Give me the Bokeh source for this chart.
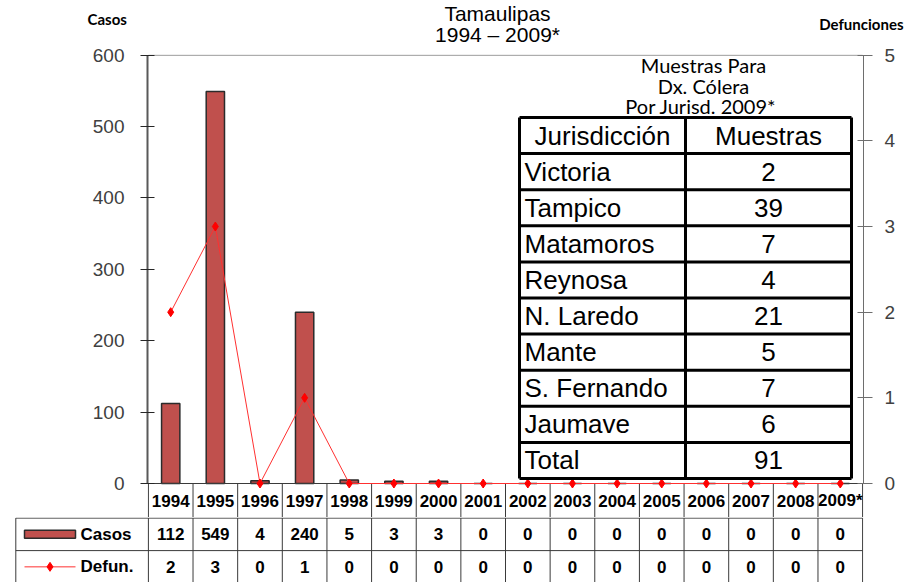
from bokeh.plotting import figure
from bokeh.models import Range1d, LinearAxis, FixedTicker
from bokeh.layouts import column
from bokeh.embed import file_html
from bokeh.resources import INLINE
from bokeh.core.properties import value

# ---------------- data ----------------
years = ["1994", "1995", "1996", "1997", "1998", "1999", "2000", "2001",
         "2002", "2003", "2004", "2005", "2006", "2007", "2008", "2009*"]
casos = [112, 549, 4, 240, 5, 3, 3, 0, 0, 0, 0, 0, 0, 0, 0, 0]
defun = [2, 3, 0, 1, 0, 0, 0, 0, 0, 0, 0, 0, 0, 0, 0, 0]
casos_ticks = [0, 100, 200, 300, 400, 500, 600]
defun_ticks = [0, 1, 2, 3, 4, 5]
jurisdicciones = ["Victoria", "Tampico", "Matamoros", "Reynosa", "N. Laredo",
                  "Mante", "S. Fernando", "Jaumave"]
muestras = [2, 39, 7, 4, 21, 5, 7, 6]
total_label = "Total"
total_muestras = 91
inset_title = ["Muestras Para", "Dx. Cólera", "Por Jurisd.  2009*"]
title_lines = ["Tamaulipas", "1994 – 2009*"]

# ---------------- geometry ----------------
W = 904
HEAD_H = 46
CHART_H = 471
BOT_H = 65
BL, BR, BT = 147, 41, 8
frame_w = W - BL - BR
frame_h = CHART_H - BT
n = len(years)
x0, x1 = -0.02, n + 0.02
scale = frame_w / (x1 - x0)          # px per column
y_end = 601.0
k = 429.0 / y_end                     # px per case
y_start = y_end - frame_h / k
RATIO = 120.0                         # 600 casos <-> 5 defunciones

ARIAL = value("Liberation Sans")
CAL = value("Lato")
AX = "#595959"
GRID = "#3a3a3a"


def px_x(page_x):
    return x0 + (page_x - BL) / scale


def px_y(page_y):
    return (483 - page_y) / k


# ---------------- header figure (titles) ----------------
h = figure(width=W, height=HEAD_H, x_range=Range1d(0, W), y_range=Range1d(HEAD_H, 0),
           x_axis_type=None, y_axis_type=None, output_backend="svg",
           toolbar_location=None, min_border=0, frame_align=False)
h.outline_line_color = None
h.grid.visible = False
h.text(x=[497, 497], y=[13, 34], text=title_lines, text_align="center",
       text_baseline="middle", text_font=ARIAL, text_font_size="21px",
       text_color="black")
h.text(x=[87], y=[18], text=["Casos"], text_align="left", text_baseline="middle",
       text_font=CAL, text_font_style="bold", text_font_size="15px", text_color="black")
h.text(x=[903], y=[23], text=["Defunciones"], text_align="right",
       text_baseline="middle", text_font=CAL, text_font_style="bold",
       text_font_size="15px", text_color="black")

# ---------------- chart figure ----------------
p = figure(width=W, height=CHART_H, x_range=Range1d(x0, x1),
           y_range=Range1d(y_start, y_end), x_axis_type=None,
           output_backend="svg", toolbar_location=None,
           min_border_left=BL, min_border_right=BR, min_border_top=BT,
           min_border_bottom=0, frame_align=False)
p.outline_line_color = None
p.ygrid.visible = False
p.extra_y_ranges = {"defun": Range1d(y_start / RATIO, y_end / RATIO)}

ya = p.yaxis[0]
ya.ticker = FixedTicker(ticks=casos_ticks)
ya.bounds = (0, 600)
ya.axis_line_color = AX
ya.axis_line_width = 2
ya.major_tick_line_color = "#262626"
ya.major_tick_in = 7
ya.major_tick_out = 7
ya.minor_tick_line_color = None
ya.major_label_text_font = "Liberation Sans"
ya.major_label_text_font_size = "19px"
ya.major_label_text_color = "#404040"
ya.major_label_standoff = 16

ra = LinearAxis(y_range_name="defun", ticker=FixedTicker(ticks=defun_ticks),
                bounds=(0, 5))
ra.axis_line_color = "#6e6e6e"
ra.major_tick_line_color = "#6e6e6e"
ra.major_tick_in = 6
ra.major_tick_out = 9
ra.minor_tick_line_color = None
ra.major_label_text_font = "Liberation Sans"
ra.major_label_text_font_size = "19px"
ra.major_label_text_color = "#404040"
ra.major_label_standoff = 12
p.add_layout(ra, "right")

centers = [i + 0.5 for i in range(n)]

# top border line
p.segment(x0=[0], x1=[n], y0=[600], y1=[600], line_color="#8c8c8c", line_width=1)

# bars
p.vbar(x=centers, top=casos, bottom=0, width=0.41, fill_color="#C0504D",
       line_color="#2b2b2b", line_width=1.5)

# header row (years) with cell borders
p.segment(x0=[0], x1=[n], y0=[0], y1=[0], line_color=GRID, line_width=1)
p.segment(x0=list(range(n + 1)), x1=list(range(n + 1)),
          y0=[0] * (n + 1), y1=[y_start] * (n + 1), line_color=GRID, line_width=1)
p.text(x=centers, y=[y_start / 2] * n, text=years, text_align="center",
       text_baseline="middle", text_font=ARIAL, text_font_size="17px",
       text_font_style="bold", text_color="black")

# defunciones line
p.line(x=centers, y=defun, y_range_name="defun", line_color="#FF3030", line_width=1)
p.scatter(x=centers, y=defun, y_range_name="defun", marker="diamond", size=9,
          fill_color="#FF0000", line_color="#FF0000")

# ---------------- inset table ----------------
tx0, tx1, tx2 = px_x(519), px_x(685), px_x(851)
ty_top, ty_bot = px_y(117), px_y(478)
rows = ["Jurisdicción"] + jurisdicciones + [total_label]
vals = ["Muestras"] + [str(v) for v in muestras] + [str(total_muestras)]
nr = len(rows)
rh = (ty_top - ty_bot) / nr
p.quad(left=[tx0], right=[tx2], bottom=[ty_bot], top=[ty_top],
       fill_color="white", line_color=None)
hy = [ty_top - i * rh for i in range(nr + 1)]
p.segment(x0=[tx0] * len(hy), x1=[tx2] * len(hy), y0=hy, y1=hy,
          line_color="black", line_width=3)
p.segment(x0=[tx0, tx1, tx2], x1=[tx0, tx1, tx2], y0=[ty_bot] * 3,
          y1=[ty_top] * 3, line_color="black", line_width=3)
rc = [ty_top - (i + 0.5) * rh for i in range(nr)]
p.text(x=[(tx0 + tx1) / 2], y=[rc[0]], text=[rows[0]], text_align="center",
       text_baseline="middle", text_font=ARIAL, text_font_size="26px",
       text_color="black")
p.text(x=[tx0 + 5 / scale] * (nr - 1), y=rc[1:], text=rows[1:], text_align="left",
       text_baseline="middle", text_font=ARIAL, text_font_size="26px",
       text_color="black")
p.text(x=[(tx1 + tx2) / 2] * nr, y=rc, text=vals, text_align="center",
       text_baseline="middle", text_font=ARIAL, text_font_size="26px",
       text_color="black")
ity = [px_y(64), px_y(85), px_y(105)]
p.text(x=[px_x(703)] * 3, y=ity, text=inset_title, text_align="center",
       text_baseline="middle", text_font=CAL, text_font_size="20px",
       text_color="black")

# ---------------- bottom data table ----------------
bl = 14
bx_start = x0 - (BL - bl) / scale
row_px = 32.5
by_end = 2 + 0.6 / row_px
by_start = by_end - BOT_H / row_px
b = figure(width=W, height=BOT_H, x_range=Range1d(bx_start, x1),
           y_range=Range1d(by_start, by_end), x_axis_type=None, y_axis_type=None,
           output_backend="svg", toolbar_location=None,
           min_border_left=bl, min_border_right=BR, min_border_top=0,
           min_border_bottom=0, frame_align=False)
b.outline_line_color = None
b.grid.visible = False
xl = bx_start + 1.3 / scale
b.segment(x0=[xl, xl], x1=[n, n], y0=[2, 1], y1=[2, 1], line_color=GRID, line_width=1)
vx = [xl] + list(range(n + 1))
b.segment(x0=vx, x1=vx, y0=[by_start] * len(vx), y1=[2] * len(vx),
          line_color=GRID, line_width=1)
b.text(x=centers, y=[1.5] * n, text=[str(v) for v in casos], text_align="center",
       text_baseline="middle", text_font=ARIAL, text_font_size="17px",
       text_font_style="bold", text_color="black")
b.text(x=centers, y=[0.5] * n, text=[str(v) for v in defun], text_align="center",
       text_baseline="middle", text_font=ARIAL, text_font_size="17px",
       text_font_style="bold", text_color="black")
# legend keys
lx_c = px_x(49.5)
b.rect(x=[lx_c], y=[1.5], width=51, height=8, width_units="screen",
       height_units="screen", fill_color="#C0504D", line_color="#2b2b2b", line_width=1.5)
b.segment(x0=[px_x(24)], x1=[px_x(75)], y0=[0.5], y1=[0.5], line_color="#FF3030",
          line_width=1)
b.scatter(x=[lx_c], y=[0.5], marker="diamond", size=9, fill_color="#FF0000",
          line_color="#FF0000")
b.text(x=[px_x(80), px_x(80)], y=[1.5, 0.5], text=["Casos", "Defun."], text_align="left",
       text_baseline="middle", text_font=ARIAL, text_font_size="17px",
       text_font_style="bold", text_color="black")

layout = column(h, p, b, spacing=0)
open("out.html", "w").write(file_html(layout, INLINE))
